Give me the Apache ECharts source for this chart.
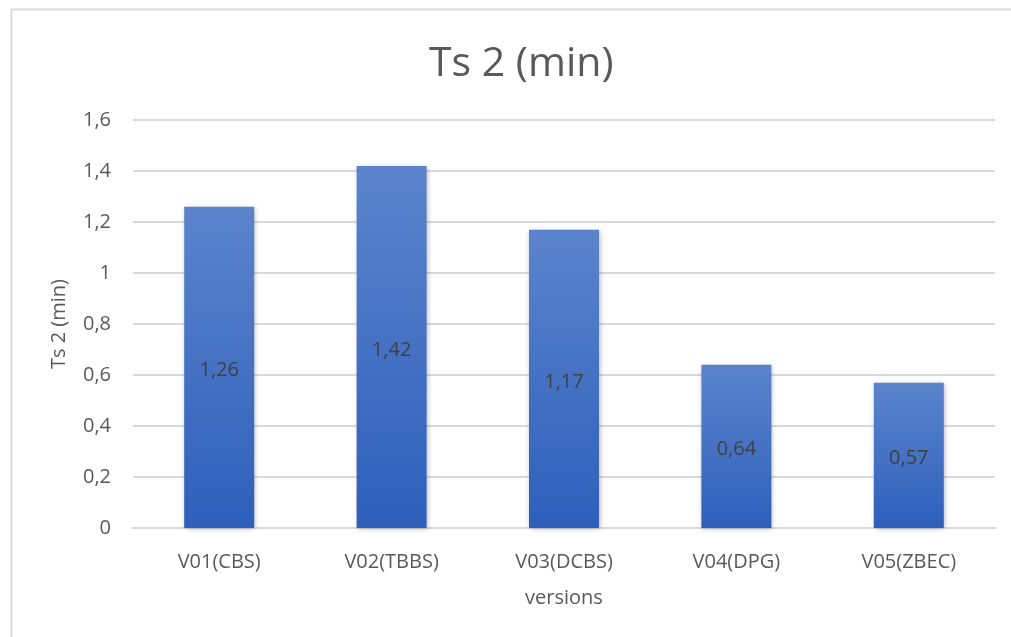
<!DOCTYPE html>
<html>
<head>
<meta charset="utf-8">
<script src="https://cdn.jsdelivr.net/npm/echarts@6/dist/echarts.min.js"></script>
<style>
  html, body { margin: 0; padding: 0; background: #fff; }
  #chart { width: 1011px; height: 637px; }
</style>
</head>
<body>
<div id="chart"></div>
<script>
// Ts 2 timing per version (minutes)
const categories = ['V01(CBS)', 'V02(TBBS)', 'V03(DCBS)', 'V04(DPG)', 'V05(ZBEC)'];
const ts2Values = [1.26, 1.42, 1.17, 0.64, 0.57];
const yTicks = { min: 0, max: 1.6, step: 0.2 };

const FONT = '"Open Sans", "Noto Sans", sans-serif';
const decimalComma = v => String(Math.round(v * 100) / 100).replace('.', ',');

const chart = echarts.init(document.getElementById('chart'));
chart.setOption({
  backgroundColor: '#ffffff',
  animation: false,
  graphic: [{
    type: 'rect',
    left: 9, top: 7,
    shape: { width: 1100, height: 700 },
    style: { fill: 'none', stroke: '#d9d9d9', lineWidth: 2 },
    silent: true
  }],
  title: {
    text: 'Ts 2 (min)',
    left: 424,
    top: 39,
    textStyle: { fontFamily: FONT, fontSize: 41, fontWeight: 'normal', color: '#595959' }
  },
  grid: { left: 133, right: 16, top: 120, bottom: 109 },
  xAxis: {
    type: 'category',
    data: categories,
    name: 'versions',
    nameLocation: 'middle',
    nameGap: 60,
    nameTextStyle: { fontFamily: FONT, fontSize: 20, color: '#595959' },
    axisLine: { lineStyle: { color: '#d9d9d9', width: 2 } },
    axisTick: { show: false },
    axisLabel: { fontFamily: FONT, fontSize: 20, color: '#595959', margin: 24 }
  },
  yAxis: {
    type: 'value',
    min: yTicks.min, max: yTicks.max, interval: yTicks.step,
    name: 'Ts 2 (min)',
    nameLocation: 'middle',
    nameGap: 64,
    nameRotate: 90,
    nameTextStyle: { fontFamily: FONT, fontSize: 20, color: '#595959' },
    axisLine: { show: false },
    axisTick: { show: false },
    axisLabel: { fontFamily: FONT, fontSize: 20, color: '#595959', margin: 22, formatter: decimalComma },
    splitLine: { lineStyle: { color: '#d9d9d9', width: 2 } }
  },
  series: [{
    type: 'bar',
    data: ts2Values,
    barWidth: '40.6%',
    itemStyle: {
      color: new echarts.graphic.LinearGradient(0, 0, 0, 1, [
        { offset: 0, color: '#5b84cc' },
        { offset: 1, color: '#2e5fbb' }
      ]),
      shadowColor: 'rgba(0,0,0,0.3)',
      shadowBlur: 5,
      shadowOffsetX: 1,
      shadowOffsetY: 1
    },
    label: {
      show: true,
      position: 'inside',
      offset: [0, 3],
      fontFamily: FONT,
      fontSize: 20,
      color: '#404040',
      formatter: p => decimalComma(p.value)
    }
  }]
});
</script>
</body>
</html>
